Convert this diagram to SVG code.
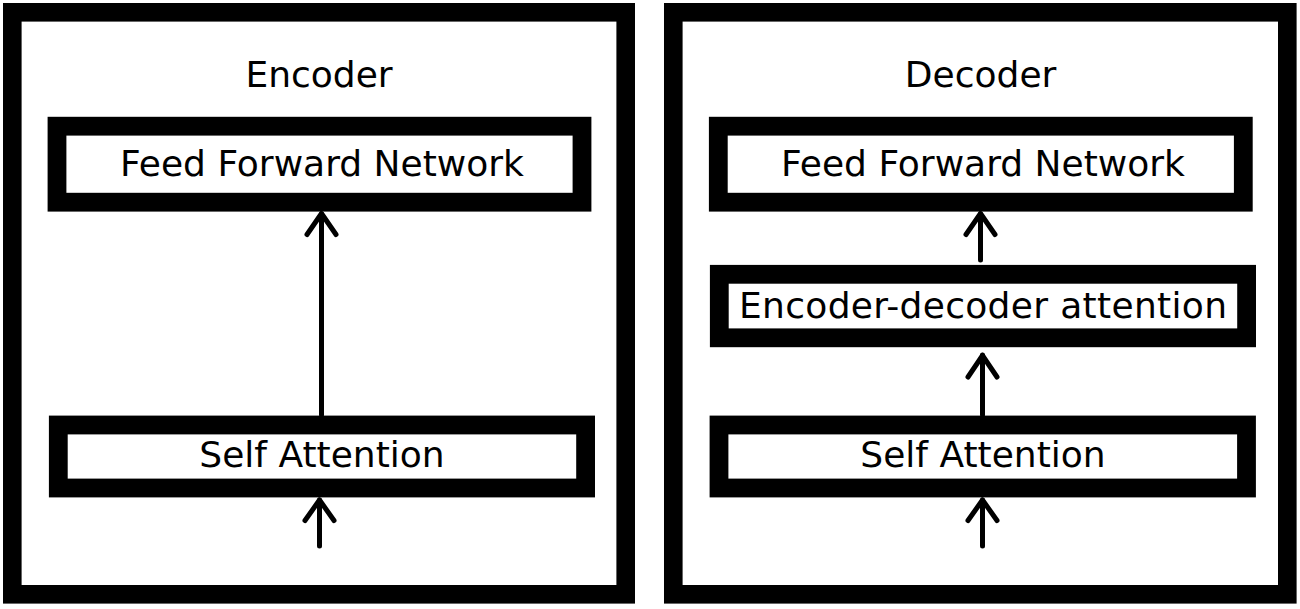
<svg xmlns="http://www.w3.org/2000/svg" width="1300" height="609" viewBox="0 0 1300 609">
  <style>
    .panel { fill: #ffffff; stroke: #000000; stroke-width: 18.6; }
    .box { fill: #ffffff; stroke: #000000; stroke-width: 18.8; }
    .title { font-family: "DejaVu Sans", sans-serif; font-size: 36px; fill: #000000; text-anchor: middle; }
    .label { font-family: "DejaVu Sans", sans-serif; font-size: 36px; fill: #000000; text-anchor: middle; }
    .arrow { fill: none; stroke: #000000; stroke-width: 5; stroke-linecap: round; stroke-linejoin: round; }
  </style>
  <rect width="1300" height="609" fill="#ffffff"/>

  <g id="encoder">
    <rect class="panel" x="12.3" y="12.3" width="613.4" height="582"/>
    <text class="title" x="319" y="87">Encoder</text>
  </g>
  <g id="enc-ffn">
    <rect class="box" x="57" y="126.2" width="525" height="76"/>
    <text class="label" x="322" y="176">Feed Forward Network</text>
  </g>
  <g id="enc-self-attention">
    <rect class="box" x="58.3" y="425" width="527.3" height="63"/>
    <text class="label" x="322" y="466.5">Self Attention</text>
  </g>

  <g id="decoder">
    <rect class="panel" x="673.3" y="12.3" width="614" height="582"/>
    <text class="title" x="980.6" y="87">Decoder</text>
  </g>
  <g id="dec-ffn">
    <rect class="box" x="718.3" y="126.2" width="525" height="76"/>
    <text class="label" x="983" y="176">Feed Forward Network</text>
  </g>
  <g id="dec-enc-dec-attention">
    <rect class="box" x="719.3" y="274.3" width="527.3" height="63.5"/>
    <text class="label" x="983" y="318" textLength="488" lengthAdjust="spacing">Encoder-decoder attention</text>
  </g>
  <g id="dec-self-attention">
    <rect class="box" x="719" y="425" width="527.5" height="63"/>
    <text class="label" x="983" y="466.5">Self Attention</text>
  </g>

  <g id="connectors">
    <path class="arrow" d="M321.5,415 L321.5,214"/>
    <path class="arrow" d="M307,234.5 L321.5,213.5 L336,234.5"/>
    <path class="arrow" d="M319.5,546 L319.5,500"/>
    <path class="arrow" d="M305,520.5 L319.5,500 L334,520.5"/>

    <path class="arrow" d="M980.5,260 L980.5,214"/>
    <path class="arrow" d="M966,234.5 L980.5,213.5 L995,234.5"/>
    <path class="arrow" d="M982.5,415 L982.5,355"/>
    <path class="arrow" d="M968,377 L982.5,355.5 L997,377"/>
    <path class="arrow" d="M982.5,546 L982.5,500"/>
    <path class="arrow" d="M968,520.5 L982.5,500 L997,520.5"/>
  </g>
</svg>
